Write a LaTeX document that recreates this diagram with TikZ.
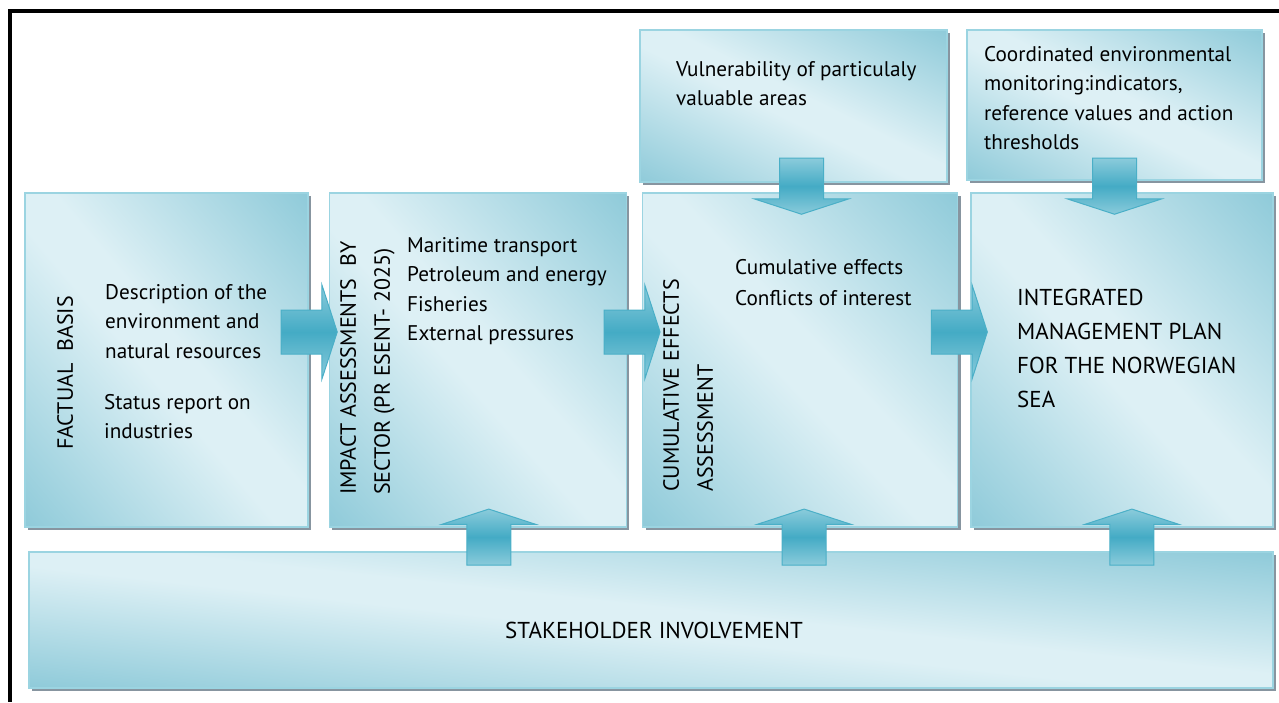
\documentclass[tikz,border=0pt]{standalone}
\usepackage{fontspec}
\setmainfont{PT Sans}
\usetikzlibrary{positioning,shapes.arrows,shadows}

\definecolor{boxdark}{HTML}{8ECAD9}
\definecolor{boxlight}{HTML}{DDF0F5}
\definecolor{boxedge}{HTML}{9BD4E1}
\definecolor{boxshadow}{HTML}{8795A0}
\definecolor{arrowmid}{HTML}{44ABC5}
\definecolor{arrowside}{HTML}{8ACBDB}
\definecolor{arrowedge}{HTML}{4AAFC7}

% light band along the box diagonal, dark towards two corners
\pgfdeclareverticalshading{boxshade}{100bp}{color(0bp)=(boxdark); color(45bp)=(boxlight); color(55bp)=(boxlight); color(100bp)=(boxdark)}

\begin{document}
\begin{tikzpicture}[x=1pt,y=-1pt,
	box/.style 2 args={draw=boxedge,fill=boxlight,line width=1.3pt,inner sep=0pt,minimum width=#1pt,minimum height=#2pt,
		path picture={\pgftransformshift{\pgfpointanchor{path picture bounding box}{center}}%
			\pgftransformxscale{#1/100}\pgftransformyscale{#2/100}%
			\pgftransformrotate{-45}\pgftransformscale{1.42}%
			\pgflowlevelsynccm\pgftext{\pgfuseshading{boxshade}}},
		drop shadow={shadow xshift=3pt,shadow yshift=-3pt,fill=boxshadow,opacity=1}},
	blockarrow/.style={single arrow,draw=arrowedge,line width=1pt,inner xsep=0pt,inner ysep=21.5pt,
		top color=arrowside,bottom color=arrowside,middle color=arrowmid,
		minimum height=56pt,single arrow head extend=25pt,single arrow tip angle=144},
	txt/.style={anchor=north west,align=left,inner sep=0pt,font=\fontsize{21.2}{29.5}\selectfont},
	side/.style={anchor=north west,align=left,inner sep=0pt,rotate=90,font=\fontsize{22}{34}\selectfont}]
	\useasboundingbox (0,0) rectangle (1279,702);
	\draw[line width=3.5pt] (1279,11) -- (10,11) -- (10,702);

	% main row
	\node[box={283}{334}] (fb) at (166.5,360) {};
	\node[box={297}{334},right=20pt of fb] (ia) {};
	\node[box={315}{334},right=15pt of ia] (ce) {};
	\node[box={302}{334},right=12pt of ce] (mp) {};
	% inputs on top and bottom
	\node[box={307}{152}] (vul) at (793.5,106) {};
	\node[box={295}{150}] (mon) at (1114.5,105) {};
	\node[box={1244}{136}] (sh) at (651,620) {};

	% texts
	\node[side] (fbt) at (57,450) {FACTUAL\ \ BASIS};
	\node[txt] (fb1) at (105,284) {Description of the\\environment and\\natural resources};
	\node[txt] (fb2) at (104,394) {Status report on\\industries};
	\node[side] (iat) at (340,495) {IMPACT ASSESSMENTS\ \ BY\\SECTOR (PR ESENT- 2025)};
	\node[txt] (ia1) at (407,237) {Maritime transport\\Petroleum and energy\\Fisheries\\External pressures};
	\node[side] (cet) at (663,492) {CUMULATIVE EFFECTS\\ASSESSMENT};
	\node[txt,font=\fontsize{21.2}{31.5}\selectfont] (ce1) at (735,259) {Cumulative effects\\Conflicts of interest};
	\node[txt,font=\fontsize{23}{34}\selectfont] (mp1) at (1017,289) {INTEGRATED\\MANAGEMENT PLAN\\FOR THE NORWEGIAN\\SEA};
	\node[txt] (vul1) at (676,61) {Vulnerability of particulaly\\valuable areas};
	\node[txt] (mon1) at (984,46) {Coordinated environmental\\monitoring:indicators,\\reference values and action\\thresholds};
	\node[font=\fontsize{23}{27}\selectfont] (sh1) at (654,630) {STAKEHOLDER INVOLVEMENT};

	% block arrows
	\node[blockarrow] (a1) at ([xshift=-3pt,yshift=28pt]fb.east) {};
	\node[blockarrow] (a2) at ([xshift=1.5pt,yshift=28pt]ia.east) {};
	\node[blockarrow] (a3) at ([xshift=-2.5pt,yshift=28pt]ce.east) {};
	\node[blockarrow,rotate=-90] (d1) at ([xshift=8pt]vul.south) {};
	\node[blockarrow,rotate=-90] (d2) at ([yshift=-2pt]mon.south) {};
	\node[blockarrow,rotate=90] (u1) at ([xshift=11pt,yshift=-13pt]ia.south) {};
	\node[blockarrow,rotate=90] (u2) at ([xshift=4pt,yshift=-13pt]ce.south) {};
	\node[blockarrow,rotate=90] (u3) at ([xshift=10pt,yshift=-13pt]mp.south) {};
\end{tikzpicture}
\end{document}
